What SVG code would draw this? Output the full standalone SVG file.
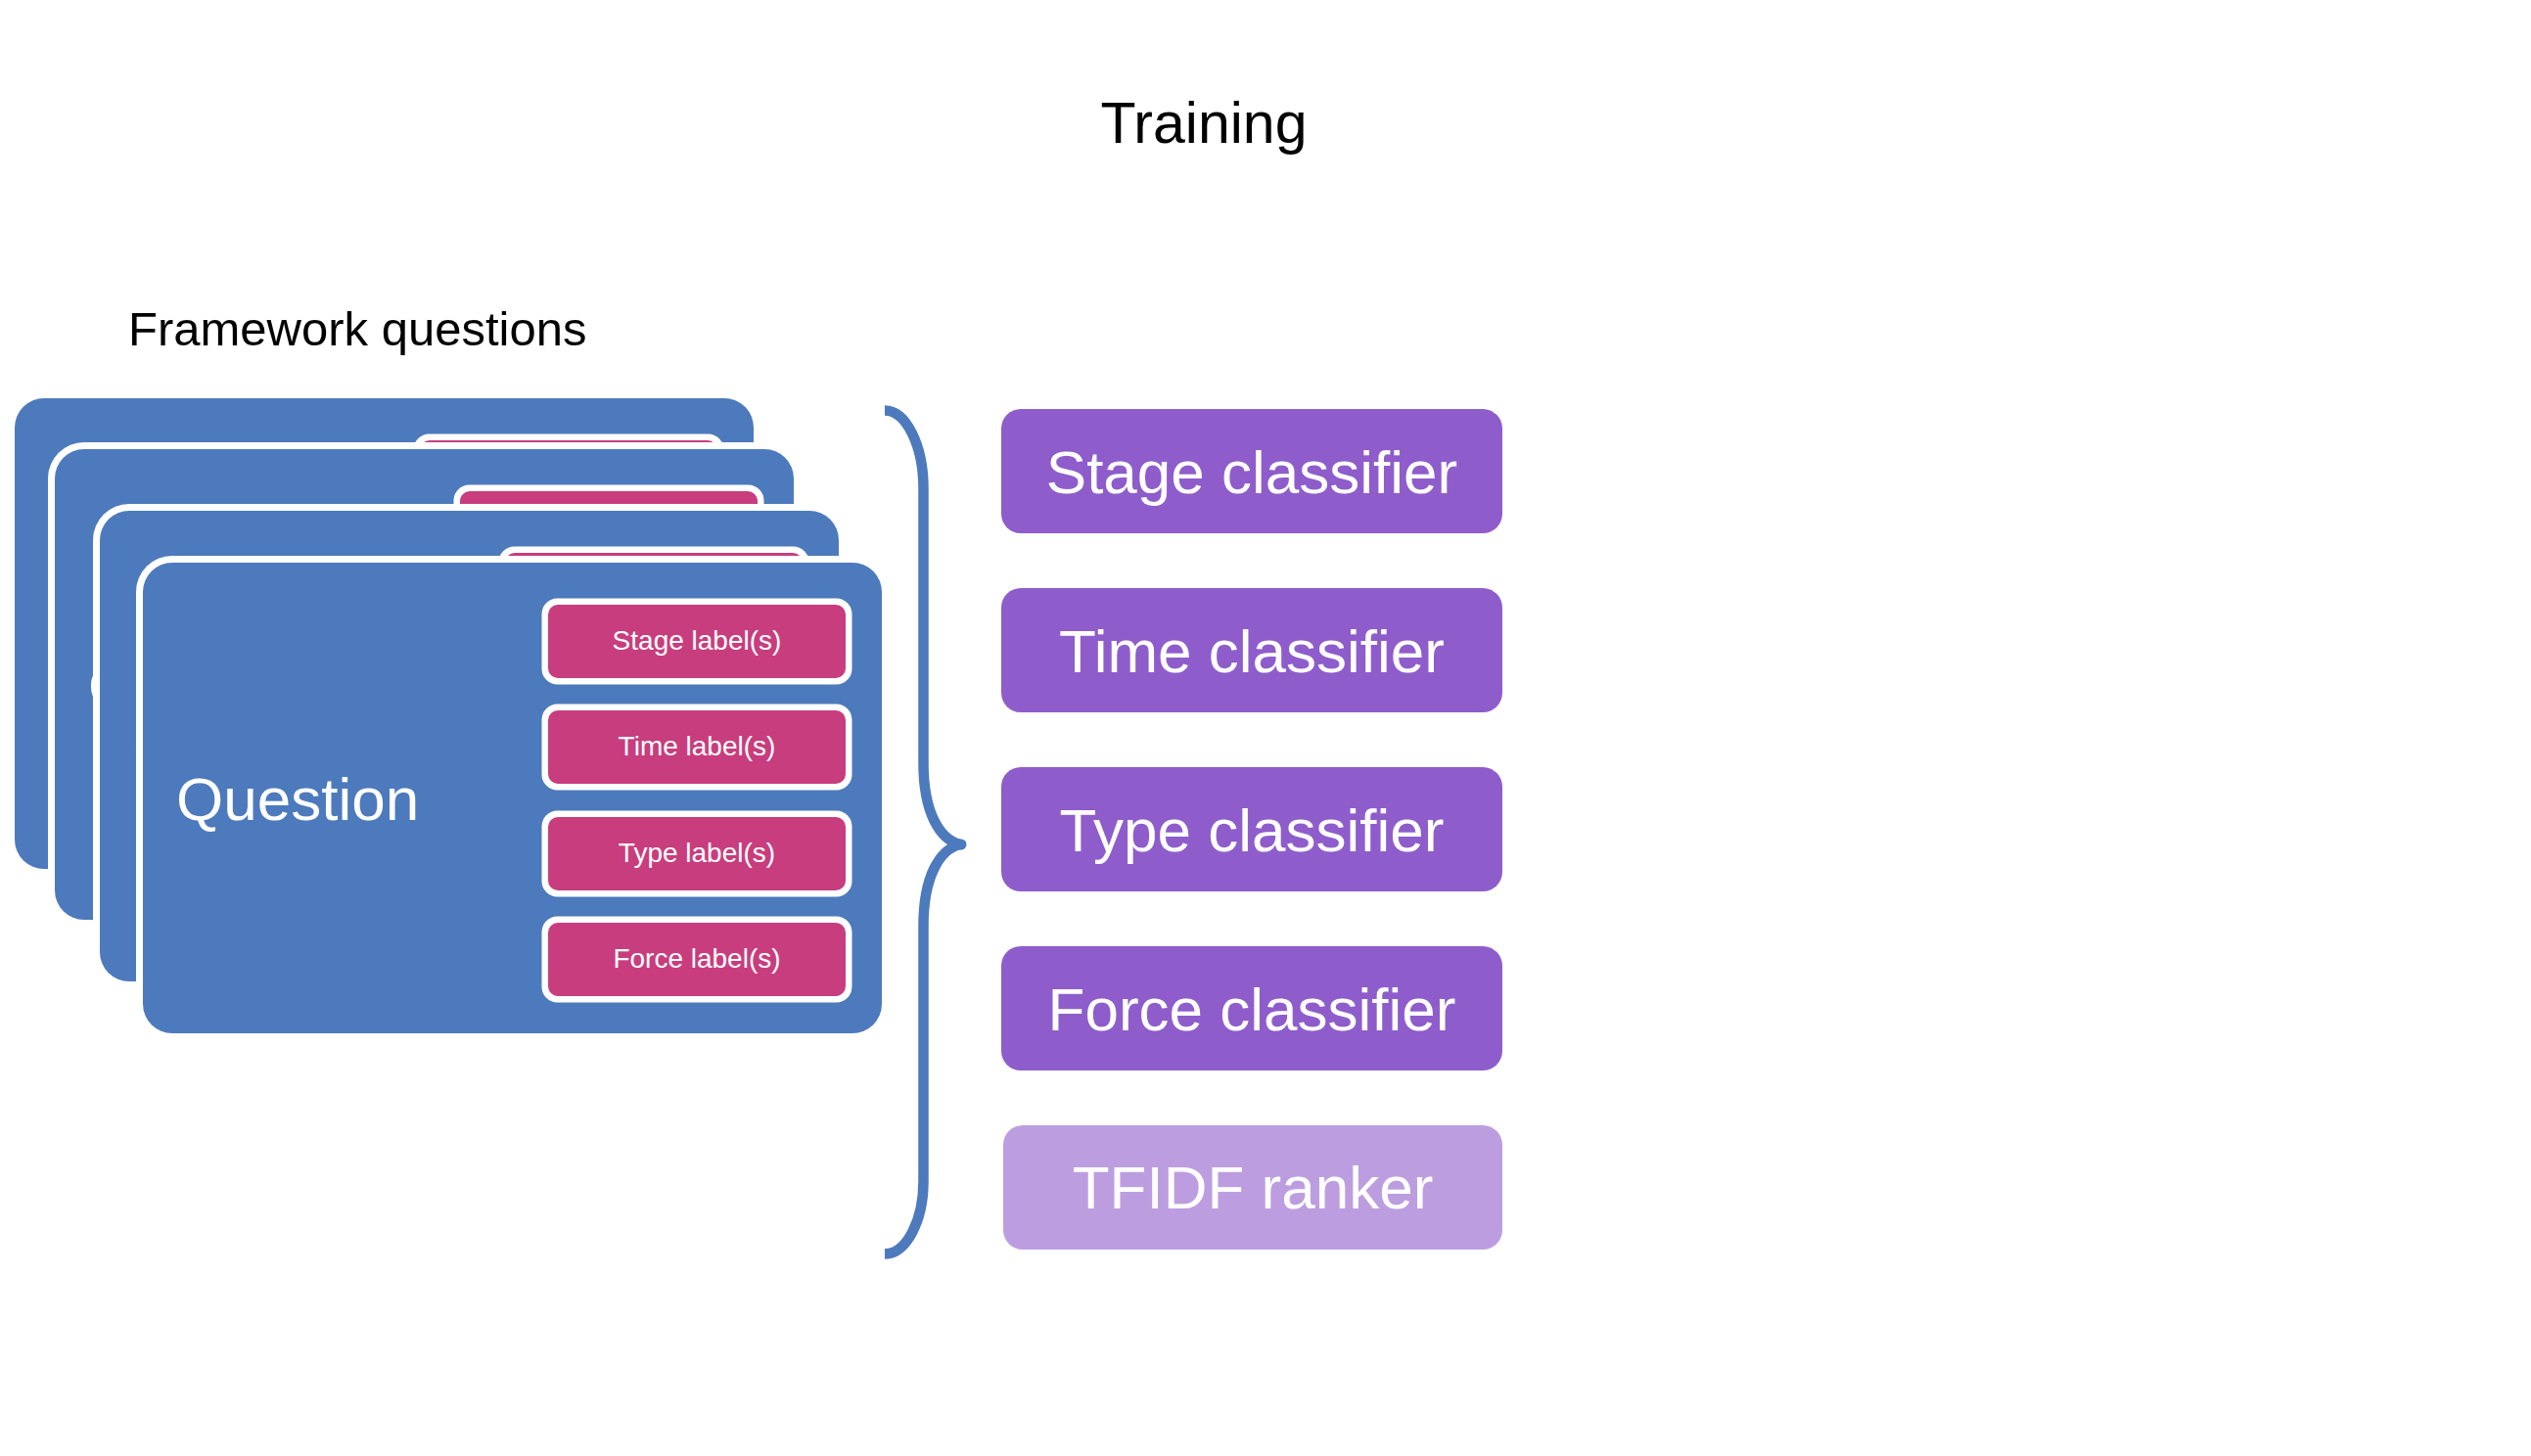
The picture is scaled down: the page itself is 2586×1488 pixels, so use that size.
<svg xmlns="http://www.w3.org/2000/svg" xmlns:xlink="http://www.w3.org/1999/xlink" width="2586" height="1488" viewBox="0 0 2586 1488">
<style>
  text { font-family: "Liberation Sans", Arial, Helvetica, sans-serif; }
  .title { font-size: 59px; fill: #000; }
  .sub { font-size: 49px; fill: #000; }
  .q { font-size: 62px; fill: #fff; }
  .lbl { font-size: 28px; fill: #fff; text-anchor: middle; }
  .cls { font-size: 62px; fill: #fff; text-anchor: middle; }
  .card { fill: #4D7ABC; }
  .cardEdge { fill: #fff; }
  .pink { fill: #C83D7D; }
  .pinkEdge { fill: #fff; }
  .purple { fill: #8E5DCB; }
  .lilac { fill: #BC9EE0; }
  .brace { fill: none; stroke: #4D7ABC; stroke-width: 10.5; stroke-linecap: butt; stroke-linejoin: round; }
</style>
<defs>
  <g id="cardBody">
    <rect class="cardEdge" x="-7" y="-7" width="769" height="495" rx="37" ry="37"/>
    <rect class="card" x="0" y="0" width="755" height="481" rx="30" ry="30"/>
    <text class="q" x="34" y="263">Question</text>
    <rect class="pinkEdge" x="407.5" y="36.5" width="317" height="88" rx="16" ry="16"/>
    <rect class="pink" x="414" y="43" width="304" height="75" rx="10" ry="10"/>
    <text class="lbl" x="566" y="89">Stage label(s)</text>
    <rect class="pinkEdge" x="407.5" y="144.5" width="317" height="88" rx="16" ry="16"/>
    <rect class="pink" x="414" y="151" width="304" height="75" rx="10" ry="10"/>
    <text class="lbl" x="566" y="197">Time label(s)</text>
    <rect class="pinkEdge" x="407.5" y="253.5" width="317" height="88" rx="16" ry="16"/>
    <rect class="pink" x="414" y="260" width="304" height="75" rx="10" ry="10"/>
    <text class="lbl" x="566" y="306">Type label(s)</text>
    <rect class="pinkEdge" x="407.5" y="361.5" width="317" height="88" rx="16" ry="16"/>
    <rect class="pink" x="414" y="368" width="304" height="75" rx="10" ry="10"/>
    <text class="lbl" x="566" y="414">Force label(s)</text>
  </g>
</defs>
<rect x="0" y="0" width="2586" height="1488" fill="#fff"/>

<g id="title">
  <text class="title" x="1230" y="146" text-anchor="middle">Training</text>
</g>
<g id="framework-label">
  <text class="sub" x="131" y="353">Framework questions</text>
</g>

<g id="card-stack">
  <g id="card1" transform="translate(15,407)"><use xlink:href="#cardBody" href="#cardBody"/></g>
  <g id="card2" transform="translate(56,459)"><use xlink:href="#cardBody" href="#cardBody"/></g>
  <g id="card3" transform="translate(102,522)"><use xlink:href="#cardBody" href="#cardBody"/></g>
  <g id="card4" transform="translate(146,575)">
    <rect class="cardEdge" x="-7" y="-7" width="769" height="495" rx="37" ry="37"/>
    <rect class="card" x="0" y="0" width="755" height="481" rx="30" ry="30"/>
    <text class="q" x="34" y="263">Question</text>
    <g id="stage-label">
      <rect class="pinkEdge" x="407.5" y="36.5" width="317" height="88" rx="16" ry="16"/>
      <rect class="pink" x="414" y="43" width="304" height="75" rx="10" ry="10"/>
      <text class="lbl" x="566" y="89">Stage label(s)</text>
    </g>
    <g id="time-label">
      <rect class="pinkEdge" x="407.5" y="144.5" width="317" height="88" rx="16" ry="16"/>
      <rect class="pink" x="414" y="151" width="304" height="75" rx="10" ry="10"/>
      <text class="lbl" x="566" y="197">Time label(s)</text>
    </g>
    <g id="type-label">
      <rect class="pinkEdge" x="407.5" y="253.5" width="317" height="88" rx="16" ry="16"/>
      <rect class="pink" x="414" y="260" width="304" height="75" rx="10" ry="10"/>
      <text class="lbl" x="566" y="306">Type label(s)</text>
    </g>
    <g id="force-label">
      <rect class="pinkEdge" x="407.5" y="361.5" width="317" height="88" rx="16" ry="16"/>
      <rect class="pink" x="414" y="368" width="304" height="75" rx="10" ry="10"/>
      <text class="lbl" x="566" y="414">Force label(s)</text>
    </g>
  </g>
</g>

<g id="connectors">
  <path class="brace" d="M 904 419.5 A 39.5 80 0 0 1 943.5 499.5 L 943.5 780 C 943.5 830 960 858 981 863 C 960 868 943.5 896 943.5 946 L 943.5 1207 A 39.5 74.5 0 0 1 904 1281.5"/>
  <path d="M 974 863 L 982 863" stroke="#4D7ABC" stroke-width="11" stroke-linecap="round" fill="none"/>
</g>

<g id="stage-classifier">
  <rect class="purple" x="1023" y="418" width="512" height="127" rx="20" ry="20"/>
  <text class="cls" x="1279" y="504">Stage classifier</text>
</g>
<g id="time-classifier">
  <rect class="purple" x="1023" y="601" width="512" height="127" rx="20" ry="20"/>
  <text class="cls" x="1279" y="687">Time classifier</text>
</g>
<g id="type-classifier">
  <rect class="purple" x="1023" y="784" width="512" height="127" rx="20" ry="20"/>
  <text class="cls" x="1279" y="870">Type classifier</text>
</g>
<g id="force-classifier">
  <rect class="purple" x="1023" y="967" width="512" height="127" rx="20" ry="20"/>
  <text class="cls" x="1279" y="1053">Force classifier</text>
</g>
<g id="tfidf-ranker">
  <rect class="lilac" x="1025" y="1150" width="510" height="127" rx="20" ry="20"/>
  <text class="cls" x="1280" y="1235">TFIDF ranker</text>
</g>
</svg>
